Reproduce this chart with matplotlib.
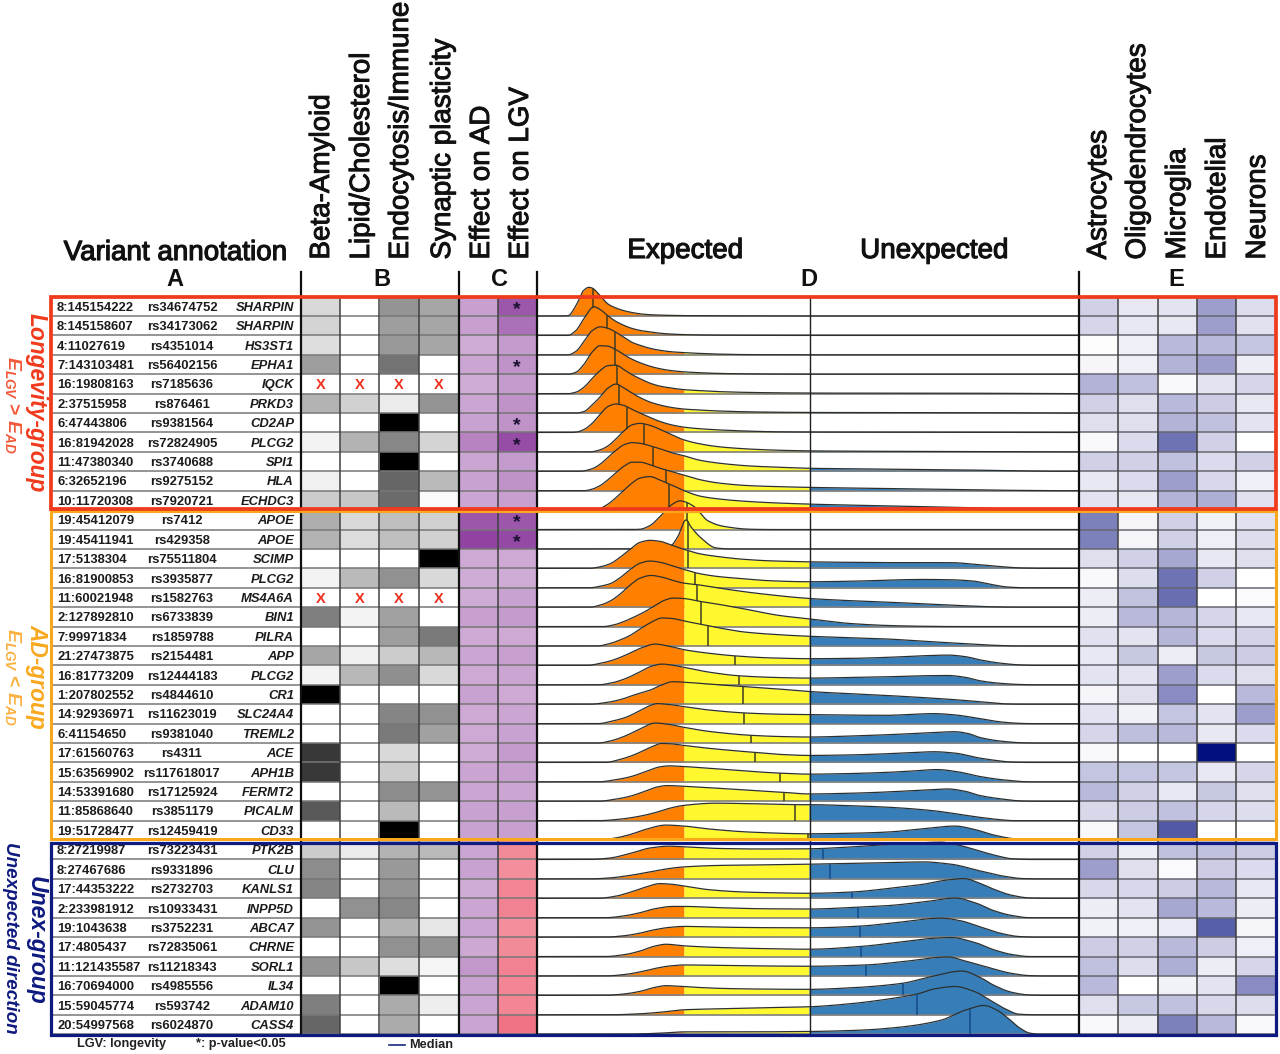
import numpy as np
import matplotlib
matplotlib.use("Agg")
import matplotlib.pyplot as plt
import matplotlib.patheffects as pe
from matplotlib.colors import LinearSegmentedColormap
from matplotlib.patches import Rectangle

plt.rcParams['font.family'] = ['Liberation Sans', 'DejaVu Sans']
plt.rcParams['mathtext.fontset'] = 'custom'
plt.rcParams['mathtext.it'] = 'Liberation Sans:italic:bold'
plt.rcParams['mathtext.rm'] = 'Liberation Sans:bold'

# ---------------- data ----------------
positions = ["8:145154222","8:145158607","4:11027619","7:143103481","16:19808163","2:37515958",
 "6:47443806","16:81942028","11:47380340","6:32652196","10:11720308",
 "19:45412079","19:45411941","17:5138304","16:81900853","11:60021948","2:127892810","7:99971834",
 "21:27473875","16:81773209","1:207802552","14:92936971","6:41154650","17:61560763","15:63569902",
 "14:53391680","11:85868640","19:51728477",
 "8:27219987","8:27467686","17:44353222","2:233981912","19:1043638","17:4805437","11:121435587",
 "16:70694000","15:59045774","20:54997568"]
rsids = ["rs34674752","rs34173062","rs4351014","rs56402156","rs7185636","rs876461","rs9381564",
 "rs72824905","rs3740688","rs9275152","rs7920721",
 "rs7412","rs429358","rs75511804","rs3935877","rs1582763","rs6733839","rs1859788","rs2154481",
 "rs12444183","rs4844610","rs11623019","rs9381040","rs4311","rs117618017","rs17125924","rs3851179",
 "rs12459419",
 "rs73223431","rs9331896","rs2732703","rs10933431","rs3752231","rs72835061","rs11218343","rs4985556",
 "rs593742","rs6024870"]
genes = ["SHARPIN","SHARPIN","HS3ST1","EPHA1","IQCK","PRKD3","CD2AP","PLCG2","SPI1","HLA","ECHDC3",
 "APOE","APOE","SCIMP","PLCG2","MS4A6A","BIN1","PILRA","APP","PLCG2","CR1","SLC24A4","TREML2","ACE",
 "APH1B","FERMT2","PICALM","CD33",
 "PTK2B","CLU","KANLS1","INPP5D","ABCA7","CHRNE","SORL1","IL34","ADAM10","CASS4"]

pathways = ["Beta-Amyloid","Lipid/Cholesterol","Endocytosis/Immune","Synaptic plasticity"]
effects = ["Effect on AD","Effect on LGV"]
celltypes = ["Astrocytes","Oligodendrocytes","Microglia","Endotelial","Neurons"]

N = np.nan
pathway_scores = [
 [.15,0,.42,.35],[.17,0,.38,.35],[.13,0,.40,.35],[.38,0,.55,0],[N,N,N,N],[.30,.18,.08,.42],[0,0,1,0],
 [.05,.30,.47,.17],[0,0,1,0],[.06,0,.60,.27],[.2,.22,.58,.02],
 [.32,.15,.25,.18],[.30,.14,.25,.18],[0,0,0,1],[.05,.27,.43,.15],[N,N,N,N],[.50,.05,.37,0],[0,0,.38,.52],
 [.35,.06,.2,.28],[.05,.28,.44,.15],[1,0,0,0],[0,0,.48,.43],[0,0,.52,.37],[.78,0,.15,0],[.78,0,.2,0],
 [0,0,.45,.42],[.65,0,.27,0],[0,0,1,0],
 [.2,.08,.3,.27],[.45,0,.4,0],[.48,0,.42,0],[0,.43,.47,0],[.42,0,.3,.1],[0,0,.43,.42],[.42,.22,.13,.04],
 [0,0,1,0],[.5,0,.33,.07],[.6,0,.33,0]]

effect_ad = [.48,.48,.42,.45,.42,.45,.47,.62,.45,.47,.45,
 .85,.95,.43,.42,.42,.48,.43,.45,.43,.47,.43,.43,.42,.46,.45,.47,.47,
 .45,.47,.42,.45,.45,.44,.52,.47,.46,.46]
effect_lgv = [.85,.72,.5,.55,.5,.55,.55,.9,.5,.55,.48,
 .85,.92,.43,.42,.47,.5,.43,.48,.45,.43,.45,.47,.5,.48,.45,.48,.48,
 -.75,-.72,-.78,-.8,-.72,-.75,-.8,-.78,-.78,-.9]
significant_rows = [0,3,6,7,11,12]
no_annotation_rows = [4,15]

celltype_scores = [
 [.2,.1,.12,.42,.15],[.18,.1,.1,.42,.13],[.01,.07,.3,.3,.25],[.04,.07,.33,.42,.08],[.33,.27,.03,.12,.18],
 [.2,.14,.3,.22,.1],[.14,.14,.33,.27,.12],[.03,.16,.6,.2,0],[.2,.2,.27,.16,.2],[.1,.16,.42,.17,.07],
 [.12,.1,.33,.35,.13],
 [.55,.05,.2,.06,.13],[.55,.05,.2,.07,.15],[.14,.2,.38,.1,.14],[.03,.15,.6,.2,0],[.08,.26,.62,0,.02],
 [.08,.3,.32,.18,.1],[.13,.12,.32,.16,.19],[.1,.24,.08,.24,.22],[.12,.12,.42,.16,.14],[.04,.14,.5,0,.3],
 [.12,.06,.25,.12,.42],[.18,.28,.3,.1,.16],[.03,0,0,1.0,0],[.25,.25,.25,.1,.18],[.3,.2,.1,.24,.14],
 [.17,.22,.27,.18,.15],[.03,.25,.7,0,0],
 [.2,.08,.27,.27,.22],[.42,.14,.02,.22,.16],[.17,.17,.22,.3,.1],[.08,.12,.38,.3,.08],[.06,.07,.09,.68,.05],
 [.22,.2,.3,.22,.07],[.27,.15,.35,.08,.18],[.3,0,.06,.12,.5],[.14,.24,.27,.17,.15],[.03,.08,.55,.3,.03]]

median_score = [592.5,607,614.6,614.6,617,619,627,644,653,666,669,
 687,687.5,688,694.6,697,701,708,735,739,743,744,751,755,780,783.5,795,807.5,
 823,830,852,858,860,860.7,866,902.5,917,970]

# ridge densities: (score, density) pairs
ridges_longevity = [
 [(560,0),(568,.3),(576,10.5),(584,26),(589,28.7),(592,28),(600,20.5),(608,12),(616,8),(624,5.3),(632,3.5),(640,2.2),(650,1.3),(660,.9),(672,.6),(684,.4),(700,.3),(720,.2),(750,.1),(780,0)],
 [(568,0),(576,5),(584,17),(594,28.7),(600,26),(608,19.5),(616,14),(624,10),(632,7),(640,5),(650,3.5),(660,2.2),(672,1.3),(684,.8),(700,.4),(720,.2),(750,.1),(780,0)],
 [(568,0),(576,3.5),(584,13.5),(592,24),(600,28),(608,26.5),(616,22.5),(624,17.5),(632,12.5),(640,9.5),(650,6.5),(660,4.5),(672,3),(684,2.2),(700,1.4),(720,.7),(750,.2),(780,.1),(809,0)],
 [(568,0),(576,2),(584,10),(592,22),(600,28.5),(608,28),(616,24.5),(624,19.5),(632,15),(640,11.5),(650,8),(660,5.5),(672,3.5),(684,2.4),(700,1.5),(720,.8),(750,.3),(780,.1),(809,0)],
 [(568,0),(576,1.5),(584,6.5),(592,15),(600,23),(608,28),(616,28.5),(624,24),(632,19),(640,15),(650,10.5),(660,7.5),(672,5.5),(684,4),(700,3),(720,2),(750,1.2),(780,.8),(809,.6),(850,.5),(950,.5),(1000,.3),(1030,.1),(1050,0)],
 [(576,0),(584,1.5),(592,8),(600,16),(608,25),(616,29),(624,25),(632,20),(640,15.5),(650,11),(660,8),(672,5.5),(684,4),(700,3),(720,2),(750,1.2),(780,.8),(809,.6),(850,.5),(950,.4),(1000,.3),(1030,.1),(1050,0)],
 [(570,0),(576,.3),(584,3),(592,9),(600,18),(608,26),(616,28.5),(624,27),(632,23),(640,19.5),(650,15),(660,11),(672,7.5),(684,5.3),(700,3.7),(720,2.5),(750,1.3),(780,.6),(809,.4),(850,.3),(950,.2),(1000,0)],
 [(590,0),(600,2),(608,6),(616,13),(624,21),(632,27),(640,28.5),(650,26.5),(660,22.5),(672,17),(684,12),(700,8),(720,5),(750,2.8),(780,1.6),(809,1),(850,.7),(900,.5),(950,.3),(1000,.2),(1030,.1),(1050,0)],
 [(580,0),(592,2.5),(600,7),(608,14),(616,21),(624,26.5),(632,28.7),(640,28),(650,25.5),(660,22.5),(672,18.5),(684,15.5),(700,11),(720,8),(750,5.3),(780,4),(809,3),(850,2.5),(900,2),(950,1.5),(1000,.8),(1030,.3),(1050,0)],
 [(584,0),(592,1.5),(600,5),(608,11),(616,18),(624,24.5),(632,28.5),(640,28.5),(650,26),(660,22.5),(672,19),(684,15.7),(700,11),(720,7.5),(750,5),(780,4),(809,3.3),(850,2.7),(900,2),(950,1.2),(1000,.5),(1030,.2),(1050,0)],
 [(596,0),(600,1.5),(608,6),(616,12.5),(624,20),(632,27),(640,32),(650,33.5),(660,30),(672,25),(684,19.5),(700,14),(720,11),(750,8.5),(780,7),(809,6),(850,5),(900,4),(950,3),(1000,1.5),(1030,.4),(1050,0)],
]
ridges_ad = [
 [(632,0),(640,.3),(650,4),(660,13),(672,25),(680,28.7),(684,28),(694,23),(708,8.7),(723,3.3),(750,.3),(770,0)],
 [(660,0),(666,.5),(672,4),(678,12.7),(686,29),(691,22),(701,11),(716,1),(730,0)],
 [(590,0),(600,1.5),(610,4.5),(620,11),(630,19),(640,26),(650,28),(660,27),(672,23),(684,19),(700,14.5),(720,11.5),(744,9),(770,7.5),(809,6.5),(850,6),(900,5.7),(951,5.7),(975,4),(994,2.3),(1023,.3),(1040,0)],
 [(590,0),(600,1.5),(610,4),(620,10),(630,18),(640,24.5),(650,26.7),(660,25.5),(672,22),(684,18.3),(700,14),(720,11),(744,9),(770,7),(809,6),(850,6.5),(900,8),(923,8.3),(950,8),(973,6.7),(990,3.5),(1008,.7),(1025,0)],
 [(590,0),(600,2),(610,6),(620,13),(630,22),(640,29),(651,31.7),(662,30),(672,27),(684,24),(697,22.5),(726,18),(760,13.5),(809,8.7),(850,6.5),(887,5),(925,3.3),(958,1.7),(994,.3),(1010,0)],
 [(603,0),(615,2),(625,5.5),(635,10),(645,15),(655,21),(665,26.5),(673,28.5),(684,28),(701,25),(720,22),(744,17.7),(780,11),(809,7.7),(851,3),(890,1),(923,.3),(960,0)],
 [(597,0),(610,2.5),(620,6),(630,10.5),(640,17),(650,23),(662,28),(672,27.5),(684,25),(708,20.3),(725,17),(744,14),(775,11.5),(809,9.7),(850,8.3),(887,7),(915,5.3),(941,3.7),(994,.7),(1015,0)],
 [(587,0),(600,2),(612,5),(625,10),(640,17),(655,21.3),(670,19),(684,15.7),(710,12),(735,9.5),(770,7.5),(809,6.7),(850,7),(887,8),(920,9.5),(948,10.3),(965,8.8),(980,5.5),(1000,2.3),(1023,.3),(1035,0)],
 [(598,0),(612,2),(625,6),(640,13),(650,18),(662,20.7),(672,19.7),(684,17.5),(710,12.5),(739,9),(770,7.5),(809,6.7),(850,7.3),(887,8),(920,9),(948,9.3),(965,7.5),(980,4),(1000,1.5),(1020,.3),(1035,0)],
 [(590,0),(605,1.5),(620,4.5),(635,9.5),(650,14),(660,18.5),(673,22.5),(684,22),(710,20),(743,17.7),(775,15.5),(809,12.7),(850,10.5),(887,8.7),(925,6.5),(958,4.3),(985,2),(1008,.2),(1020,0)],
 [(598,0),(612,2.5),(625,6),(640,13),(650,18),(657,20),(670,19),(684,17),(710,13.5),(744,10.7),(775,9.5),(809,9),(850,8.5),(887,8.3),(915,9.5),(934,10),(955,8.7),(976,5.7),(1000,1.8),(1012,.7),(1030,0)],
 [(598,0),(612,2.5),(625,7),(640,14),(655,20),(670,18.5),(684,15.7),(710,11.5),(751,7.7),(780,6.5),(809,6),(850,7),(887,8.3),(925,10),(955,11.3),(968,9.5),(980,5.5),(1000,2),(1023,.2),(1035,0)],
 [(605,0),(620,3),(635,8),(650,15),(662,19),(672,18.5),(684,17),(710,14),(755,10),(780,8),(809,7),(850,7.5),(887,8.7),(915,10),(934,10.7),(955,9.3),(980,4.3),(1000,1.5),(1012,.3),(1030,0)],
 [(598,0),(615,2),(630,5),(645,10),(660,15),(669,16),(684,15.3),(710,13.5),(750,10.5),(780,8.7),(809,7.7),(850,8.3),(887,9.5),(915,11),(937,12.3),(958,10),(980,5.3),(1005,1.8),(1030,0)],
 [(598,0),(615,2),(630,5),(645,10),(658,14.5),(667,15.7),(684,15),(710,13.5),(750,11),(783,9),(809,7.3),(850,8),(887,9.3),(920,11),(948,12.3),(965,10),(980,5.7),(1000,2.5),(1023,.2),(1035,0)],
 [(598,0),(620,1.5),(640,4.5),(655,8),(670,12.5),(684,15.3),(716,17.5),(750,17),(795,16),(809,16),(850,15),(887,13.5),(933,10),(955,7),(980,3.3),(1000,1),(1015,0)],
 [(598,0),(615,2),(630,5.5),(645,10.5),(666,15),(684,14),(710,11),(750,8),(809,6.3),(850,6.8),(887,8),(925,11.5),(955,14),(975,10.5),(994,5),(1015,1.2),(1035,0)],
]
ridges_unexpected = [
 [(590,0),(610,1.5),(630,6),(650,11.5),(669,13.3),(684,12.7),(720,11),(760,10.5),(809,10.7),(850,12.5),(887,15),(915,16.5),(941,17.3),(960,14),(980,8.3),(1000,3),(1012,.7),(1030,0)],
 [(590,0),(610,1),(630,3.5),(650,7),(670,10.5),(684,12),(720,13.5),(760,14),(809,14.7),(850,15.5),(900,16.5),(923,17),(951,14.7),(980,8),(1005,2.5),(1023,.3),(1040,0)],
 [(598,0),(615,2),(630,6),(645,11),(660,14.7),(672,14),(684,12.3),(710,8.5),(744,6.3),(775,5.5),(809,5),(852,6.3),(890,10),(923,14),(945,18),(964,19.7),(980,15),(994,9),(1012,3),(1030,.3),(1045,0)],
 [(605,0),(625,2),(640,5),(655,9),(673,11.3),(684,11.3),(720,10),(760,9),(809,8.7),(858,10.5),(887,12),(925,16),(955,19.7),(975,15),(994,7),(1012,2.2),(1030,0)],
 [(605,0),(625,1.5),(640,4),(655,7.5),(670,9.8),(684,10.7),(720,10),(760,9.5),(809,9.3),(860,11),(900,15),(941,19),(960,16.5),(980,10.3),(1000,4),(1019,.6),(1035,0)],
 [(605,0),(625,2),(640,5.5),(655,10.5),(666,12.3),(684,10.7),(720,9),(760,8),(809,7.3),(860,10),(900,14.5),(930,18),(951,19),(975,14),(994,6.7),(1012,2),(1030,0)],
 [(605,0),(625,1.5),(640,4),(655,7.5),(670,10),(684,11),(720,10.5),(760,10),(809,9.7),(866,11),(900,14),(948,19),(965,15),(991,7.7),(1012,2.5),(1030,.3),(1045,0)],
 [(605,0),(625,1.5),(640,4),(655,8),(666,9.7),(684,8.7),(720,7),(760,6.3),(809,6),(850,7.5),(902,12),(930,18.5),(962,24.3),(980,18),(994,10),(1012,3),(1030,.3),(1045,0)],
 [(610,0),(640,1),(660,2.5),(684,5),(720,6),(760,7),(809,8),(850,11),(890,16),(917,20.7),(935,26),(955,28.3),(975,23),(991,14),(1005,6),(1019,.6),(1035,0)],
 [(625,0),(660,1),(684,2.3),(740,2.3),(809,2.7),(860,4),(900,7),(941,14),(965,24),(984,28.7),(997,24),(1008,16),(1020,6),(1030,1),(1040,0)],
]
ridges = ridges_longevity + ridges_ad + ridges_unexpected

# ---------------- layout ----------------
W, H = 1280, 1054
ROW_TOP, ROW_H = 296.6, 19.41
N_ROWS = len(genes)
ROW_BOTTOM = ROW_TOP + ROW_H * N_ROWS
ORANGE_END, YELLOW_END = 684, 809
D_LEFT, D_RIGHT = 536.5, 1078.5

fig = plt.figure(figsize=(W/100, H/100), dpi=100, facecolor='white')

def panel(x0, x1, y0=ROW_TOP, y1=ROW_BOTTOM, z=1):
    a = fig.add_axes([x0/W, 1-y1/H, (x1-x0)/W, (y1-y0)/H], zorder=z)
    a.axis('off')
    return a

def pchip(x, y, xx):
    x, y = np.asarray(x, float), np.asarray(y, float)
    h = np.diff(x); d = np.diff(y)/h
    m = np.zeros_like(y)
    for k in range(1, len(x)-1):
        if d[k-1]*d[k] > 0:
            w1, w2 = 2*h[k]+h[k-1], h[k]+2*h[k-1]
            m[k] = (w1+w2)/(w1/d[k-1]+w2/d[k])
    i = np.clip(np.searchsorted(x, xx, side='right')-1, 0, len(h)-1)
    t = (xx-x[i])/h[i]
    return ((2*t**3-3*t**2+1)*y[i] + (t**3-2*t**2+t)*h[i]*m[i]
            + (-2*t**3+3*t**2)*y[i+1] + (t**3-t**2)*h[i]*m[i+1])

# B: pathway heat map
ax_b = panel(300.5, 458.5)
ax_b.pcolormesh(np.arange(5), np.arange(N_ROWS+1), np.ma.masked_invalid(pathway_scores),
                cmap='gray_r', vmin=0, vmax=1)
ax_b.set_xlim(0, 4); ax_b.set_ylim(N_ROWS, 0)
for r in no_annotation_rows:
    for c in range(4):
        ax_b.text(c+.5, r+.56, "X", color='#f0301c', fontsize=10.5, fontweight='bold', ha='center', va='center', zorder=5)

# C: effect heat map
effect_cmap = LinearSegmentedColormap.from_list('eff', ['#ee6476', '#ffffff', '#8b3a9c'])
ax_c = panel(458.5, 536.5)
ax_c.pcolormesh(np.arange(3), np.arange(N_ROWS+1), np.column_stack([effect_ad, effect_lgv]),
                cmap=effect_cmap, vmin=-1, vmax=1)
ax_c.set_xlim(0, 2); ax_c.set_ylim(N_ROWS, 0)
for r in significant_rows:
    ax_c.text(1.5, r+.66, "*", color='#1a1030', fontsize=14, fontweight='bold', ha='center', va='center', zorder=5)

# E: cell type heat map
cell_cmap = LinearSegmentedColormap.from_list('cell', [(0, '#ffffff'), (.5, '#8a8cc2'), (1, '#00107e')])
ax_e = panel(1079, 1275)
ax_e.pcolormesh(np.arange(6), np.arange(N_ROWS+1), np.array(celltype_scores), cmap=cell_cmap, vmin=0, vmax=1)
ax_e.set_xlim(0, 5); ax_e.set_ylim(N_ROWS, 0)

# D: ridges
rows_above = (ROW_TOP-262)/ROW_H
ax_d = panel(D_LEFT, D_RIGHT, 262, ROW_BOTTOM, z=2)
ax_d.set_xlim(D_LEFT, D_RIGHT); ax_d.set_ylim(N_ROWS, -rows_above)
scale = 1/ROW_H
for r, pairs in enumerate(ridges):
    kx, ky = zip(*pairs)
    xx = np.unique(np.r_[np.arange(D_LEFT, D_RIGHT, 1.0), ORANGE_END, YELLOW_END])
    yy = np.where((xx < kx[0]) | (xx > kx[-1]), 0, pchip(kx, ky, np.clip(xx, kx[0], kx[-1])))
    base = r + 1
    z = 10 + r*4
    for lo, hi, col in [(D_LEFT, ORANGE_END, '#ff8000'), (ORANGE_END, YELLOW_END, '#fff82e'), (YELLOW_END, D_RIGHT, '#377eb8')]:
        m = (xx >= lo) & (xx <= hi)
        ax_d.fill_between(xx[m], base, base-yy[m]*scale, color=col, lw=0, zorder=z)
    ax_d.hlines(base, D_LEFT, D_RIGHT, color='#808080', lw=1.2, zorder=z+1)
    ax_d.plot(xx, base-yy*scale, color='#2d3030', lw=0.9, zorder=z+2, solid_joinstyle='round')
    mx = median_score[r]
    my = float(pchip(kx, ky, np.array([mx]))[0])
    ax_d.vlines(mx, base, base-my*scale, color='#154a8a' if mx > YELLOW_END else '#403c20', lw=1.1, zorder=z+3)

# overlay: grid, boxes and labels
ax = fig.add_axes([0, 0, 1, 1], zorder=5)
ax.set_xlim(0, W); ax.set_ylim(H, 0); ax.axis('off'); ax.patch.set_alpha(0)

for r in range(1, N_ROWS+1):
    y = ROW_TOP + r*ROW_H
    ax.plot([53, 536], [y, y], color='#777777', lw=1.1, zorder=2)
    ax.plot([1079, 1274], [y, y], color='#666670', lw=1.1, zorder=2)
for x in [339.5, 379, 418.5, 497.5, 1118, 1157.5, 1197, 1236]:
    ax.plot([x, x], [ROW_TOP, ROW_BOTTOM], color='#404040', lw=1.1, zorder=3)
for x in [300.5, 458.5, 536.5, 1079]:
    ax.plot([x, x], [272, ROW_BOTTOM], color='#101010', lw=1.6, zorder=3)
ax.plot([809.5, 809.5], [ROW_TOP, ROW_BOTTOM], color='#202020', lw=1.0, zorder=3)

for (y0, y1, col, lw) in [(511, 839, '#f9a81e', 2.2), (297, 509, '#f03a1c', 2.7), (843, 1035, '#0f1a80', 2.3)]:
    ax.add_patch(Rectangle((50.5, y0), 1225.5, y1-y0, fill=False, edgecolor=col, lw=lw, zorder=6, joinstyle='miter'))

for r in range(N_ROWS):
    y = ROW_TOP + (r+.5)*ROW_H + 1.5
    ax.text(57, y, positions[r], fontsize=9.4, fontweight='bold', color='#1c1c1c', ha='left', va='center')
    ax.text(182, y, rsids[r], fontsize=9.4, fontweight='bold', color='#1c1c1c', ha='center', va='center')
    ax.text(294, y, genes[r], fontsize=9.4, fontweight='bold', style='italic', color='#1c1c1c', ha='right', va='center')

semi = [pe.withStroke(linewidth=0.7, foreground='#111111')]
hdr = dict(rotation=90, fontsize=20, ha='center', va='bottom', color='#111111', path_effects=semi)
for x, t in zip([322, 362, 401, 443], pathways):
    ax.text(x, 259.5, t, **hdr)
for x, t in zip([482, 521], effects):
    ax.text(x, 259.5, t, **hdr)
for x, t in zip([1099, 1138, 1178, 1218, 1258], celltypes):
    ax.text(x, 259.5, t, **hdr)

ttl = dict(fontsize=20, ha='center', va='center', color='#111111',
           path_effects=[pe.withStroke(linewidth=0.85, foreground='#111111')])
ax.text(175, 253, "Variant annotation", **ttl)
ax.text(685, 251, "Expected", **ttl)
ax.text(934, 251, "Unexpected", **ttl)
for x, t in zip([175, 382, 500, 809, 1176], "ABCDE"):
    ax.text(x, 279, t, fontsize=17, fontweight='bold', ha='center', va='center', color='#111111', zorder=4)

grp = dict(rotation=270, ha='center', va='center', fontweight='bold', style='italic')
ax.text(36.5, 403, "Longevity-group", fontsize=16.4, color='#f03a1c', **grp)
ax.text(36.5, 676, "AD-group", fontsize=16.4, color='#f9a81e', **grp)
ax.text(36.5, 940, "Unex-group", fontsize=16.6, color='#0f1a80', **grp)
ax.text(10.5, 938, "Unexpected direction", fontsize=13.6, color='#0f1a80', **grp)
ax.text(12.5, 405, r"$\mathit{E}_{\mathit{LGV}}$ > $\mathit{E}_{\mathit{AD}}$", fontsize=14, color='#f4583a', rotation=270, ha='center', va='center', fontweight='bold')
ax.text(12.5, 677, r"$\mathit{E}_{\mathit{LGV}}$ < $\mathit{E}_{\mathit{AD}}$", fontsize=14, color='#fbb040', rotation=270, ha='center', va='center', fontweight='bold')

ax.text(122, 1044, "LGV: longevity", fontsize=9.2, fontweight='bold', ha='center', va='center', color='#222222')
ax.text(241, 1044, "*: p-value<0.05", fontsize=9.2, fontweight='bold', ha='center', va='center', color='#222222')
ax.plot([388.5, 405], [1044.5, 1044.5], color='#1a2a80', lw=1.2)
ax.text(409, 1045, "Median", fontsize=9.2, fontweight='bold', ha='left', va='center', color='#222222')

fig.savefig("out.png", dpi=100, facecolor='white')
